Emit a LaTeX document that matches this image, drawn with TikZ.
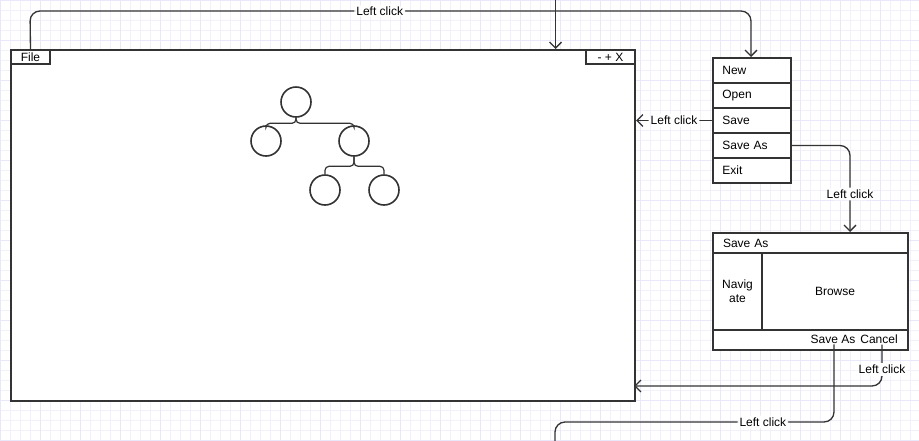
\documentclass[tikz,border=0pt]{standalone}
\usepackage{fontspec}
\setmainfont{Liberation Sans}
\usetikzlibrary{arrows.meta}
\definecolor{ink}{HTML}{333333}
\definecolor{gridline}{HTML}{F1F1FC}
\definecolor{gridmajor}{HTML}{E8E8FA}

\tikzset{
  pane/.style={draw=ink, line width=1.5pt, fill=white, inner sep=0pt, anchor=north west},
  item/.style={pane, minimum width=58.5pt, minimum height=18.75pt, inner xsep=7pt, text width=44.5pt, align=left},
  leaf/.style={draw=ink, line width=1.2pt, circle, minimum size=22.5pt, inner sep=0pt, fill=white},
  branch/.style={draw=ink, line width=0.9pt, rounded corners=3pt},
  link/.style={draw=ink, line width=1pt, rounded corners=7.5pt, -{Straight Barb[length=4.5pt,width=9pt]}},
  plain/.style={draw=ink, line width=1pt, rounded corners=7.5pt},
  lbl/.style={fill=white, inner sep=1.5pt},
}

\begin{document}
\begin{tikzpicture}[x=0.75pt, y=-0.75pt, font=\fontsize{9}{10.5}\selectfont]
\useasboundingbox (0,0) rectangle (919,440);
\fill[white] (0,0) rectangle (919,440);
\draw[gridline, line width=0.4pt, step=7.5pt] (0,0) grid (919,440);
\draw[gridmajor, line width=0.4pt, step=30pt] (0,0) grid (919,440);

% main window
\node[pane, minimum width=468pt, minimum height=263.25pt] (win) at (10,49) {};
\node[pane, minimum width=29.25pt, minimum height=10.5pt] (filetab) at (10,49) {File};
\node[pane, minimum width=36.75pt, minimum height=10.5pt] (ctrltab) at (585,49) {- + X};

% tree on the canvas
\node[leaf] (root) at (296,102) {};
\node[leaf] (lkid) at (266,141) {};
\node[leaf] (rkid) at (354,141) {};
\node[leaf] (gkida) at (325,190) {};
\node[leaf] (gkidb) at (384,190) {};
\draw[branch] (root.south) -- ++(0,5.5) -| (lkid.north);
\draw[branch] (root.south) -- ++(0,5.5) -| (rkid.north);
\draw[branch] (rkid.south) -- ++(0,9.5) -| (gkida.north);
\draw[branch] (rkid.south) -- ++(0,9.5) -| (gkidb.north);

% file menu
\node[item] (new) at (712,57) {New};
\node[item] (open) at (712,82) {Open};
\node[item] (save) at (712,107) {Save};
\node[item] (saveas) at (712,132) {Save As};
\node[item] (exit) at (712,157) {Exit};

% save as dialog
\node[pane, minimum width=146.25pt, minimum height=15pt, inner xsep=7.5pt, text width=131.25pt, align=left] (dtitle) at (712,232) {Save As};
\node[pane, minimum width=36.75pt, minimum height=57.75pt, align=center] (dnav) at (712,252) {Navig\\ate};
\node[pane, minimum width=109.5pt, minimum height=57.75pt] (dbrowse) at (761,252) {Browse};
\node[pane, minimum width=146.25pt, minimum height=15pt] (dbottom) at (712,329) {};
\node (dsave) at (833,339.5) {Save As};
\node (dcancel) at (879,339.5) {Cancel};

% clicks
\coordinate (topin) at (555.5,-5);
\coordinate (dlgin) at (850,232);
\coordinate (winret) at (634,386);
\coordinate (botout) at (555,450);
\draw[link] (filetab.north) -- (30,11) -- node[lbl, pos=0.485] {Left click} (751,11) -- (751,57);
\draw[link] (topin) -- (topin |- win.north);
\draw[link] (save.west) -- node[lbl] {Left click} (save.west -| win.east);
\draw[link] (saveas.east) -| node[lbl, pos=0.78] {Left click} (dlgin);
\draw[link] (dcancel.south -| 882,0) ++(0,-4) |- node[lbl, pos=0.3] {Left click} (winret);
\draw[plain] (dsave.south -| 834,0) ++(0,-4) -- (834,422) -- node[lbl, pos=0.255] {Left click} (555,422) -- (botout);
\end{tikzpicture}
\end{document}
